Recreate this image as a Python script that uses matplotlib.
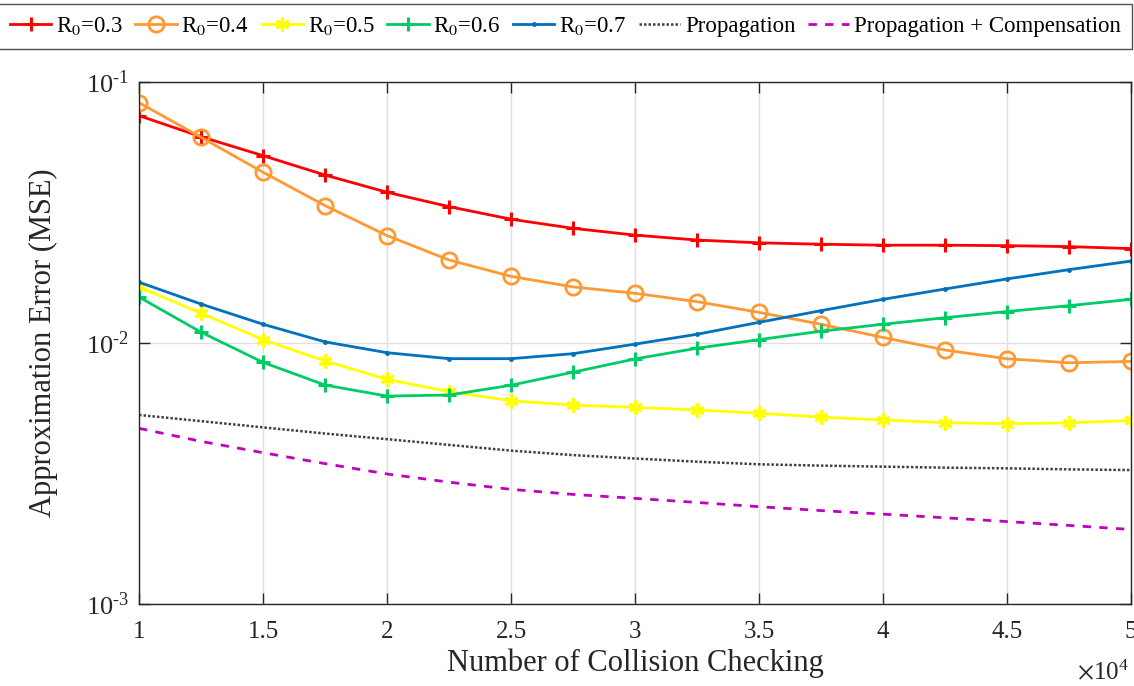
import matplotlib
matplotlib.use("Agg")
import matplotlib.pyplot as plt
import numpy as np
from matplotlib.ticker import FixedLocator, NullLocator

plt.rcParams['font.family'] = ['Liberation Serif', 'DejaVu Serif']
plt.rcParams['mathtext.fontset'] = 'stix'

# number of collision checks (x 10^4)
checks = [1.0, 1.25, 1.5, 1.75, 2.0, 2.25, 2.5, 2.75, 3.0, 3.25, 3.5, 3.75,
          4.0, 4.25, 4.5, 4.75, 5.0]

# MSE for each radius
mse_r03 = [0.0743, 0.0617, 0.0522, 0.0440, 0.0378, 0.0333, 0.0298, 0.0275, 0.0259,
           0.0248, 0.0242, 0.0239, 0.0237, 0.0237, 0.0236, 0.0234, 0.0230]
mse_r04 = [0.0833, 0.0614, 0.0451, 0.0336, 0.0258, 0.0208, 0.0180, 0.0164, 0.0155,
           0.0144, 0.0131, 0.0118, 0.0105, 0.0094, 0.0087, 0.0084, 0.0085]
mse_r05 = [0.0164, 0.0130, 0.0103, 0.00853, 0.00726, 0.00651, 0.00601, 0.00578, 0.00567,
           0.00554, 0.00538, 0.00520, 0.00507, 0.00495, 0.00491, 0.00494, 0.00505]
mse_r06 = [0.0150, 0.0110, 0.00843, 0.00690, 0.00626, 0.00632, 0.00689, 0.00773, 0.00869,
           0.00955, 0.0103, 0.0111, 0.0118, 0.0125, 0.0132, 0.0139, 0.0147]
mse_r07 = [0.0171, 0.0141, 0.0118, 0.0101, 0.00918, 0.00871, 0.00871, 0.0091, 0.0099,
           0.0108, 0.0120, 0.0133, 0.0147, 0.0161, 0.0176, 0.0191, 0.0206]
mse_prop = [0.00530, 0.00502, 0.00475, 0.00450, 0.00428, 0.00407, 0.00387, 0.00372, 0.00361,
            0.00351, 0.00343, 0.00339, 0.00336, 0.00333, 0.00331, 0.00328, 0.00326]
mse_comp = [0.00471, 0.00420, 0.00380, 0.00345, 0.00315, 0.00293, 0.00275, 0.00263, 0.00254,
            0.00245, 0.00236, 0.00228, 0.00221, 0.00214, 0.00207, 0.00200, 0.00193]

x_ticks = [1, 1.5, 2, 2.5, 3, 3.5, 4, 4.5, 5]
x_tick_labels = ['1', '1.5', '2', '2.5', '3', '3.5', '4', '4.5', '5']
y_ticks = [1e-3, 1e-2, 1e-1]
y_tick_labels = ['10$^{\\mathregular{\u20103}}$', '10$^{\\mathregular{\u20102}}$',
                 '10$^{\\mathregular{\u20101}}$']

fig = plt.figure(figsize=(11.34, 6.86), dpi=100)
ax = fig.add_axes([0.1226, 0.1195, 0.8748, 0.761])

lw = 2.0
asterisk = (6, 2, 0)
ax.plot(checks, mse_r03, color='#FF0000', lw=lw, marker='+', ms=10, mew=2.2, label='R$_0$=0.3')
ax.plot(checks, mse_r04, color='#FF9933', lw=lw, marker='o', ms=11, mew=2.0, mfc='none', label='R$_0$=0.4')
ax.plot(checks, mse_r05, color='#FFFF00', lw=lw, marker=asterisk, ms=10, mew=2.2, label='R$_0$=0.5')
ax.plot(checks, mse_r06, color='#00CC66', lw=lw, marker='+', ms=10, mew=2.2, label='R$_0$=0.6')
ax.plot(checks, mse_r07, color='#0072BD', lw=lw, marker='.', ms=5, label='R$_0$=0.7')
ax.plot(checks, mse_prop, color='#404040', lw=1.8, ls=(0, (1, 0.8)), label='Propagation')
ax.plot(checks, mse_comp, color='#C000C0', lw=lw, ls=(0, (3, 3)), label='Propagation + Compensation')

ax.set_yscale('log')
ax.set_xlim(1, 5)
ax.set_ylim(1e-3, 1e-1)
ax.xaxis.set_major_locator(FixedLocator(x_ticks))
ax.set_xticklabels(x_tick_labels)
ax.yaxis.set_major_locator(FixedLocator(y_ticks))
ax.set_yticklabels(y_tick_labels)
ax.yaxis.set_minor_locator(NullLocator())
ax.xaxis.set_minor_locator(NullLocator())

ax.grid(True, color='#E0E0E0', lw=1.0)
ax.set_axisbelow(True)
for s in ax.spines.values():
    s.set_color('#262626')
    s.set_linewidth(1.0)
ax.tick_params(which='both', direction='in', top=True, right=True, length=8,
               width=1.0, colors='#262626', labelsize=18, pad=8)
ax.tick_params(axis='x', pad=12)
ax.tick_params(axis='y', labelsize=19, pad=7)

ax.set_xlabel('Number of Collision Checking', fontsize=22, color='#262626', labelpad=4)
ax.set_ylabel('Approximation Error (MSE)', fontsize=22, color='#262626', labelpad=20)
fig.text(1129/1134, 1 - 672/686, r'$\times\mathregular{10^4}$', fontsize=18, color='#262626',
         ha='right', va='center')

leg = fig.legend(loc='center', bbox_to_anchor=(0.4985, 0.962), ncol=7, fontsize=16.5,
                 frameon=True, fancybox=False, edgecolor='#262626', handlelength=1.8,
                 handletextpad=0.2, columnspacing=0.55, borderpad=0.5, borderaxespad=0)
leg.get_frame().set_linewidth(1.0)

fig.savefig('out.png', dpi=100)
